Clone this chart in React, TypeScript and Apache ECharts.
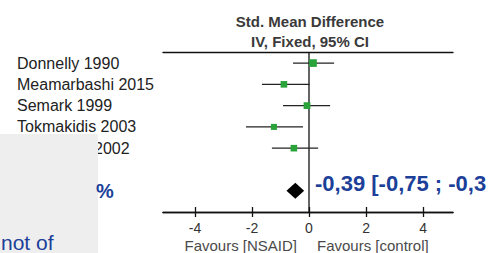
import React, { useEffect, useRef } from "react";
import * as echarts from "echarts";

const studies = ["Donnelly 1990", "Meamarbashi 2015", "Semark 1999", "Tokmakidis 2003", "2002"];
const estimates = [0.14, -0.88, -0.07, -1.23, -0.53];
const lowers = [-0.56, -1.65, -0.91, -2.21, -1.3];
const uppers = [0.88, 0.02, 0.74, -0.21, 0.32];
const weights = [26, 20, 21, 17, 20];
const pooled = { est: -0.48, lo: -0.79, hi: -0.17 };
const pooledText = "-0,39 [-0,75 ; -0,3";
const tickValues = [-4, -2, 0, 2, 4];
const zeroLine = [0];
const headerLines = ["Std. Mean Difference", "IV, Fixed, 95% CI"];
const favours = ["Favours [NSAID]", "Favours [control]"];

const X_MIN = -5.12;
const X_MAX = 5.05;
const Y_MIN = -0.52;
const Y_MAX = 7;
const POOLED_ROW = 6;
const FONT = "'Liberation Sans', Arial, sans-serif";

export default function App() {
  const ref = useRef<HTMLDivElement>(null);
  useEffect(() => {
    if (!ref.current) return;
    const chart = echarts.init(ref.current, null, { renderer: "svg" });
    const studyData = studies.map((_, i) => [estimates[i], lowers[i], uppers[i], i, weights[i]]);
    const baseX = {
      type: "value",
      min: X_MIN,
      max: X_MAX,
      splitLine: { show: false },
    };
    const axisLine = { show: true, onZero: false, lineStyle: { color: "#111", width: 1.3 } };
    chart.setOption({
      animation: false,
      backgroundColor: "#ffffff",
      grid: { left: 163, right: 35, top: 52, bottom: 41, containLabel: false, outerBoundsMode: "none" },
      xAxis: [
        {
          ...baseX,
          position: "bottom",
          axisLine,
          axisTick: { show: true, inside: true, length: 5, customValues: tickValues, lineStyle: { color: "#111", width: 1.3 } },
          axisLabel: { show: true, customValues: tickValues, fontSize: 14, lineHeight: 14, color: "#333", margin: 9, fontFamily: FONT },
        },
        {
          ...baseX,
          position: "bottom",
          axisLine,
          axisTick: { show: true, inside: false, length: 5, customValues: tickValues, lineStyle: { color: "#111", width: 1.3 } },
          axisLabel: { show: false },
        },
        {
          ...baseX,
          position: "top",
          axisLine,
          axisTick: { show: false },
          axisLabel: { show: false },
        },
      ],
      yAxis: {
        type: "value",
        inverse: true,
        min: Y_MIN,
        max: Y_MAX,
        splitLine: { show: false },
        axisLine: { show: false, onZero: false },
        axisTick: { show: false },
        axisLabel: {
          show: true,
          customValues: studies.map((_, i) => i),
          align: "left",
          margin: 146,
          fontSize: 16,
          color: "#222",
          fontFamily: FONT,
          formatter: (v: number) => (v === 4 ? "{p|}" + studies[v] : studies[v]),
          rich: { p: { width: 77 } },
        },
      },
      series: [
        {
          type: "custom",
          xAxisIndex: 0,
          data: zeroLine.map((v) => [v]),
          encode: { x: 0 },
          z: 1,
          renderItem: (params: any, api: any) => {
            const a = api.coord([api.value(0), Y_MIN]);
            const b = api.coord([api.value(0), Y_MAX]);
            return {
              type: "line",
              shape: { x1: a[0], y1: a[1], x2: b[0], y2: b[1] },
              style: { stroke: "#111", lineWidth: 1.3 },
            };
          },
        },
        {
          type: "custom",
          xAxisIndex: 0,
          data: studyData,
          encode: { x: [0, 1, 2], y: 3 },
          z: 3,
          renderItem: (params: any, api: any) => {
            const row = api.value(3);
            const pLo = api.coord([api.value(1), row]);
            const pHi = api.coord([api.value(2), row]);
            const pEst = api.coord([api.value(0), row]);
            const s = 3 + api.value(4) * 0.18;
            return {
              type: "group",
              children: [
                {
                  type: "line",
                  shape: { x1: pLo[0], y1: pLo[1], x2: pHi[0], y2: pHi[1] },
                  style: { stroke: "#222", lineWidth: 1.3 },
                },
                {
                  type: "rect",
                  shape: { x: pEst[0] - s / 2, y: pEst[1] - s / 2, width: s, height: s },
                  style: { fill: "#2aa33a" },
                },
              ],
            };
          },
        },
        {
          type: "custom",
          xAxisIndex: 0,
          data: [[pooled.est, pooled.lo, pooled.hi, POOLED_ROW]],
          encode: { x: [0, 1, 2], y: 3 },
          z: 3,
          renderItem: (params: any, api: any) => {
            const row = api.value(3);
            const c = api.coord([api.value(0), row]);
            const l = api.coord([api.value(1), row]);
            const r = api.coord([api.value(2), row]);
            const h = 8;
            return {
              type: "polygon",
              shape: { points: [[l[0], c[1]], [c[0], c[1] - h], [r[0], c[1]], [c[0], c[1] + h]] },
              style: { fill: "#000" },
            };
          },
        },
      ],
      graphic: [
        {
          type: "text",
          x: 310,
          y: 21,
          style: { text: headerLines[0], font: `bold 15px ${FONT}`, fill: "#3a3a3a", align: "center", verticalAlign: "middle" },
        },
        {
          type: "text",
          x: 310,
          y: 41,
          style: { text: headerLines[1], font: `bold 15px ${FONT}`, fill: "#3a3a3a", align: "center", verticalAlign: "middle" },
        },
        {
          type: "text",
          x: 297,
          y: 245,
          style: { text: favours[0], font: `15px ${FONT}`, lineHeight: 15, fill: "#4a4a4a", align: "right", verticalAlign: "middle" },
        },
        {
          type: "text",
          x: 317,
          y: 245,
          style: { text: favours[1], font: `15px ${FONT}`, lineHeight: 15, fill: "#4a4a4a", align: "left", verticalAlign: "middle" },
        },
        {
          type: "text",
          x: 315,
          y: 183,
          style: { text: pooledText, font: `bold 22px ${FONT}`, fill: "#1c3f99", align: "left", verticalAlign: "middle" },
        },
        {
          type: "rect",
          z: 100,
          shape: { x: 0, y: 134, width: 98, height: 130 },
          style: { fill: "#eeeeee" },
        },
        {
          type: "text",
          z: 101,
          x: 96,
          y: 191,
          style: { text: "%", font: `bold 20px ${FONT}`, fill: "#1c3f99", align: "left", verticalAlign: "middle" },
        },
        {
          type: "text",
          z: 101,
          x: 1,
          y: 242,
          style: { text: "not of", font: `21px ${FONT}`, fill: "#1c3f99", align: "left", verticalAlign: "middle" },
        },
      ],
    });
    return () => chart.dispose();
  }, []);
  return <div ref={ref} style={{ position: "absolute", left: 0, top: 0, width: 488, height: 253 }} />;
}
